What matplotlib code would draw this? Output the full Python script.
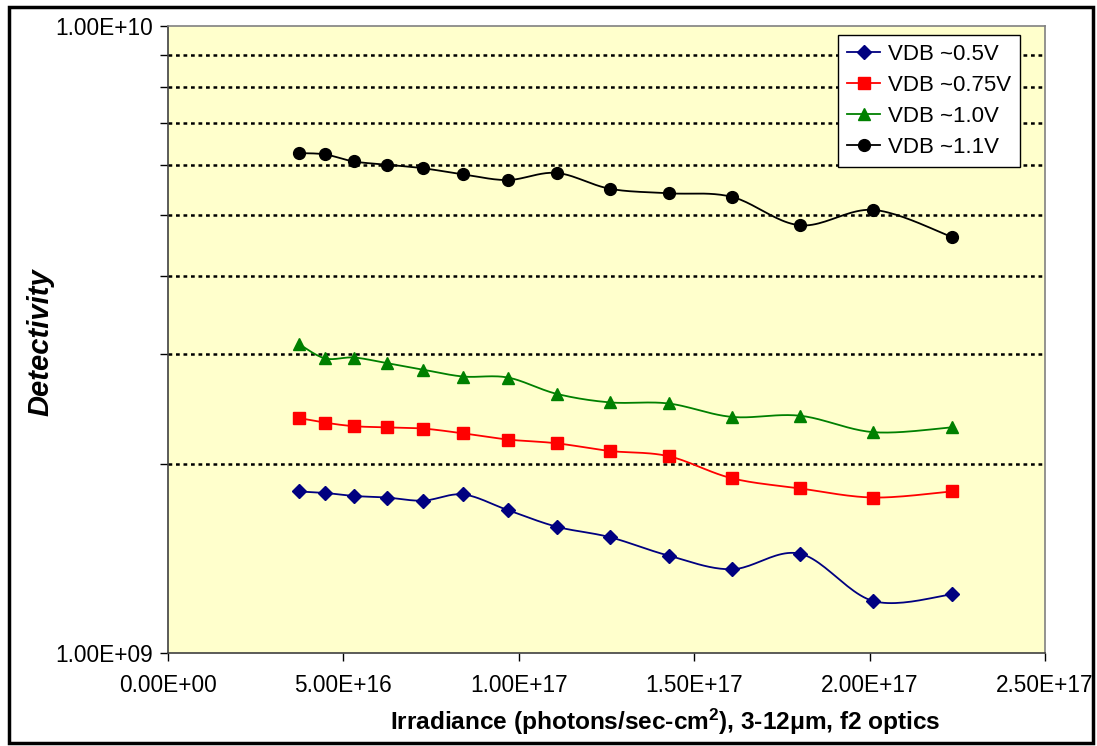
import numpy as np
import matplotlib
matplotlib.use("Agg")
import matplotlib.pyplot as plt
from matplotlib.lines import Line2D
from matplotlib.patches import Rectangle
from matplotlib.ticker import FixedLocator, NullFormatter, FuncFormatter

plt.rcParams['font.family'] = ['Liberation Sans', 'DejaVu Sans']
plt.rcParams['mathtext.fontset'] = 'custom'
plt.rcParams['mathtext.rm'] = 'Liberation Sans:bold'
plt.rcParams['mathtext.bf'] = 'Liberation Sans:bold'
plt.rcParams['mathtext.default'] = 'bf'

# irradiance (photons/sec-cm2)
irr = [3.73e16, 4.48e16, 5.30e16, 6.23e16, 7.28e16, 8.42e16, 9.69e16,
       1.108e17, 1.260e17, 1.427e17, 1.607e17, 1.802e17, 2.011e17, 2.234e17]

# detectivity for each bias
d_05 = [1.81e9, 1.80e9, 1.78e9, 1.77e9, 1.75e9, 1.79e9, 1.69e9,
        1.59e9, 1.53e9, 1.43e9, 1.36e9, 1.44e9, 1.21e9, 1.24e9]
d_075 = [2.37e9, 2.33e9, 2.30e9, 2.29e9, 2.28e9, 2.24e9, 2.19e9,
         2.16e9, 2.10e9, 2.06e9, 1.90e9, 1.83e9, 1.77e9, 1.81e9]
d_10 = [3.11e9, 2.95e9, 2.96e9, 2.90e9, 2.83e9, 2.76e9, 2.75e9,
        2.59e9, 2.51e9, 2.50e9, 2.38e9, 2.39e9, 2.25e9, 2.29e9]
d_11 = [6.27e9, 6.24e9, 6.08e9, 6.01e9, 5.93e9, 5.80e9, 5.68e9,
        5.83e9, 5.50e9, 5.41e9, 5.34e9, 4.81e9, 5.09e9, 4.61e9]

labels = ['VDB ~0.5V', 'VDB ~0.75V', 'VDB ~1.0V', 'VDB ~1.1V']
series = [d_05, d_075, d_10, d_11]
colors = ['#000080', '#FF0000', '#008000', '#000000']
markers = ['D', 's', '^', 'o']
msizes = [7.5, 8, 8.5, 8.5]

XMAX = 2.5e17
W, H = 877.0, 627.0  # plot area size in px, used to shape the smoothing


def smooth(xv, yv, n=24):
    # bezier smoothing through the points (catmull-rom style), in screen-like space
    px = np.asarray(xv) / XMAX * W
    py = np.log10(np.asarray(yv)) * H
    pts = np.column_stack([px, py])
    ext = np.vstack([pts[0], pts, pts[-1]])
    out = []
    t = np.linspace(0, 1, n)[:, None]
    for i in range(len(pts) - 1):
        p0, p1, p2, p3 = ext[i], ext[i + 1], ext[i + 2], ext[i + 3]
        c1 = p1 + (p2 - p0) / 6
        c2 = p2 - (p3 - p1) / 6
        seg = (1 - t) ** 3 * p1 + 3 * (1 - t) ** 2 * t * c1 + 3 * (1 - t) * t ** 2 * c2 + t ** 3 * p2
        out.append(seg if i == 0 else seg[1:])
    out = np.vstack(out)
    return out[:, 0] / W * XMAX, 10 ** (out[:, 1] / H)


fig = plt.figure(figsize=(10.97, 7.46), dpi=100)
ax = fig.add_axes([168 / 1097, 93 / 746, 877 / 1097, 627 / 746])
ax.set_facecolor('#FFFFCC')

ax.set_yscale('log')
ax.set_xlim(0, XMAX)
ax.set_ylim(1e9, 1e10)

# dotted gridlines at 2E9 ... 9E9
for g in range(2, 10):
    ax.axhline(g * 1e9, color='black', lw=1.8, ls=(0, (1.5, 1.5)), zorder=1)

handles = []
for yv, c, m, ms, lab in zip(series, colors, markers, msizes, labels):
    sx, sy = smooth(irr, yv)
    ax.plot(sx, sy, color=c, lw=1.3, zorder=3)
    ax.plot(irr, yv, linestyle='none', marker=m, ms=ms, color=c, mec=c, zorder=4)
    handles.append(Line2D([], [], color=c, lw=1.3, marker=m, ms=ms, mec=c, label=lab))

ax.xaxis.set_major_locator(FixedLocator(np.arange(0, 2.51e17, 5e16)))
ax.xaxis.set_major_formatter(FuncFormatter(lambda v, p: '%.2E' % v))
ax.yaxis.set_major_locator(FixedLocator([1e9, 1e10]))
ax.yaxis.set_major_formatter(FuncFormatter(lambda v, p: '%.2E' % v))
ax.yaxis.set_minor_locator(FixedLocator([g * 1e9 for g in range(2, 10)]))
ax.yaxis.set_minor_formatter(NullFormatter())
ax.tick_params(axis='both', which='both', direction='out', length=6, width=1,
               color='black', labelsize=16.3)
ax.tick_params(axis='x', pad=9)
ax.tick_params(axis='y', pad=5)

for s in ['left', 'bottom']:
    ax.spines[s].set_color('#404040')
for s in ['top', 'right']:
    ax.spines[s].set_color('#808080')
for s in ax.spines.values():
    s.set_linewidth(1.2)

leg = ax.legend(handles=handles, loc='upper left', bbox_to_anchor=(0.764, 0.986),
                borderaxespad=0, fontsize=16, frameon=True, fancybox=False,
                handlelength=1.5, handletextpad=0.35, labelspacing=0.45,
                borderpad=0.4)
leg.get_frame().set_edgecolor('black')
leg.get_frame().set_linewidth(1.0)
leg.get_frame().set_facecolor('white')
leg.get_frame().set_alpha(1)
leg.set_zorder(5)

fig.text(665 / 1097, 16 / 746,
         'Irradiance (photons/sec-cm$^{2}$), 3-12\u03bcm, f2 optics',
         ha='center', va='baseline', fontsize=17.6, fontweight='bold')
fig.text(40 / 1097, 404 / 746, 'Detectivity', rotation=90, ha='center',
         va='center', fontsize=21, fontweight='bold', fontstyle='italic')

fig.patches.append(Rectangle((9 / 1097, 3 / 746), 1084 / 1097, 736 / 746,
                             transform=fig.transFigure, fill=False,
                             edgecolor='black', lw=2.5))

fig.savefig('out.png', dpi=100)
